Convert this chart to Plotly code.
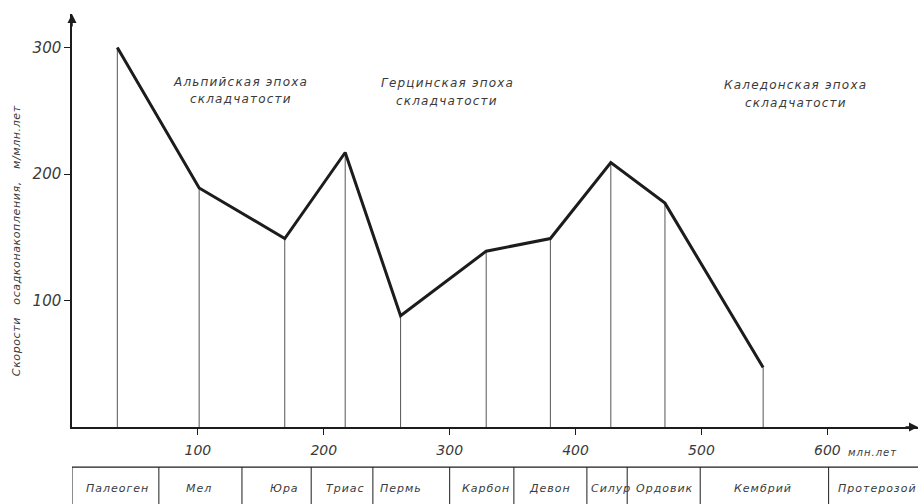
import plotly.graph_objects as go

# Geological periods, mid-point ages (million years) and sedimentation rates (m per million years)
periods = ["Палеоген", "Мел", "Юра", "Триас", "Пермь", "Карбон", "Девон", "Силур", "Ордовик", "Кембрий"]
age_mid = [36, 101, 169, 217, 261, 329, 380, 428, 471, 549]
rate = [300, 189, 149, 217, 88, 139, 149, 209, 177, 47]

# Period boundaries for the stratigraphic strip under the axis
boundaries = [0, 69, 135, 190, 239, 300, 351, 409, 441, 499, 601]
last_period = "Протерозой"
last_period_x = 640

x_ticks = [100, 200, 300, 400, 500, 600]
y_ticks = [100, 200, 300]

# Orogeny epochs: (line 1, line 2, x, y of line 1, y of line 2)
epochs = [
    ("Альпийская эпоха", "складчатости", 134, 273, 259),
    ("Герцинская эпоха", "складчатости", 298, 272, 258),
    ("Каледонская эпоха", "складчатости", 575, 270, 256),
]

INK = "#1c1c1c"
TXT = "#3a3a3a"
FONT = "DejaVu Sans"


def spaced(s, px=1.0):
    return f'<span style="letter-spacing:{px}px">{s}</span>'


fig = go.Figure()

# thin drop lines from each point down to the age axis
drop_x, drop_y = [], []
for a, r in zip(age_mid, rate):
    drop_x += [a, a, None]
    drop_y += [0, r, None]
fig.add_trace(go.Scatter(x=drop_x, y=drop_y, mode="lines",
                         line=dict(color="#555555", width=1),
                         hoverinfo="skip", showlegend=False))

# sedimentation rate curve
fig.add_trace(go.Scatter(x=age_mid, y=rate, mode="lines",
                         line=dict(color=INK, width=3),
                         showlegend=False))

annotations = []
for l1, l2, ex, ey1, ey2 in epochs:
    for txt, ey in ((l1, ey1), (l2, ey2)):
        annotations.append(dict(x=ex, y=ey, xref="x", yref="y", text=spaced(txt, 1.2),
                                showarrow=False, xanchor="center", yanchor="middle",
                                font=dict(family=FONT, size=12, color=TXT, style="italic")))

# stratigraphic strip
shapes = [dict(type="line", xref="paper", yref="paper", x0=0, x1=1,
               y0=-0.097, y1=-0.097, line=dict(color=INK, width=1.2))]
for b in boundaries:
    shapes.append(dict(type="line", xref="x", yref="paper", x0=b, x1=b,
                       y0=-0.097, y1=-0.25, line=dict(color=INK, width=1)))

for name, a in zip(periods + [last_period], age_mid + [last_period_x]):
    annotations.append(dict(x=a, y=-0.150, xref="x", yref="paper", text=spaced(name, 1.0),
                            showarrow=False, xanchor="center", yanchor="middle",
                            font=dict(family=FONT, size=11, color=TXT, style="italic")))

# unit next to the last age tick
annotations.append(dict(x=615, y=-0.061, xref="x", yref="paper", text=spaced("млн.лет", 1.0),
                        showarrow=False, xanchor="left", yanchor="middle",
                        font=dict(family=FONT, size=10, color=TXT, style="italic")))

# y axis title
annotations.append(dict(x=0, y=0.45, xref="paper", yref="paper", xshift=-56,
                        text=spaced("Скорости\u00a0\u00a0\u00a0осадконакопления,\u00a0\u00a0\u00a0м/млн.лет", 0.6),
                        textangle=-90, showarrow=False, xanchor="center", yanchor="middle",
                        font=dict(family=FONT, size=11, color=TXT, style="italic")))

# arrowheads at the ends of both axes
annotations.append(dict(x=1, y=0, xref="paper", yref="paper", ax=-14, ay=0, text="",
                        showarrow=True, arrowhead=2, arrowsize=1.2, arrowwidth=1.5,
                        arrowcolor=INK))
annotations.append(dict(x=0, y=1, xref="paper", yref="paper", ax=0, ay=14, text="",
                        showarrow=True, arrowhead=2, arrowsize=1.2, arrowwidth=1.5,
                        arrowcolor=INK))

fig.update_layout(
    width=920, height=504,
    margin=dict(l=72, r=2, t=14, b=77),
    paper_bgcolor="white", plot_bgcolor="white",
    shapes=shapes, annotations=annotations,
    xaxis=dict(range=[0, 672], showgrid=False, zeroline=False,
               showline=True, linecolor=INK, linewidth=1.5,
               tickmode="array", tickvals=x_ticks, ticktext=[str(t) for t in x_ticks],
               ticks="outside", ticklen=6, tickcolor=INK, tickwidth=1.2,
               ticklabelstandoff=3,
               tickfont=dict(family=FONT, size=14, color=TXT, style="italic")),
    yaxis=dict(range=[0, 326.5], showgrid=False, zeroline=False,
               showline=True, linecolor=INK, linewidth=1.5,
               tickmode="array", tickvals=y_ticks, ticktext=[str(t) for t in y_ticks],
               ticks="outside", ticklen=6, tickcolor=INK, tickwidth=1.2,
               tickfont=dict(family=FONT, size=15, color=TXT, style="italic")),
)

fig.write_html("out.html")
